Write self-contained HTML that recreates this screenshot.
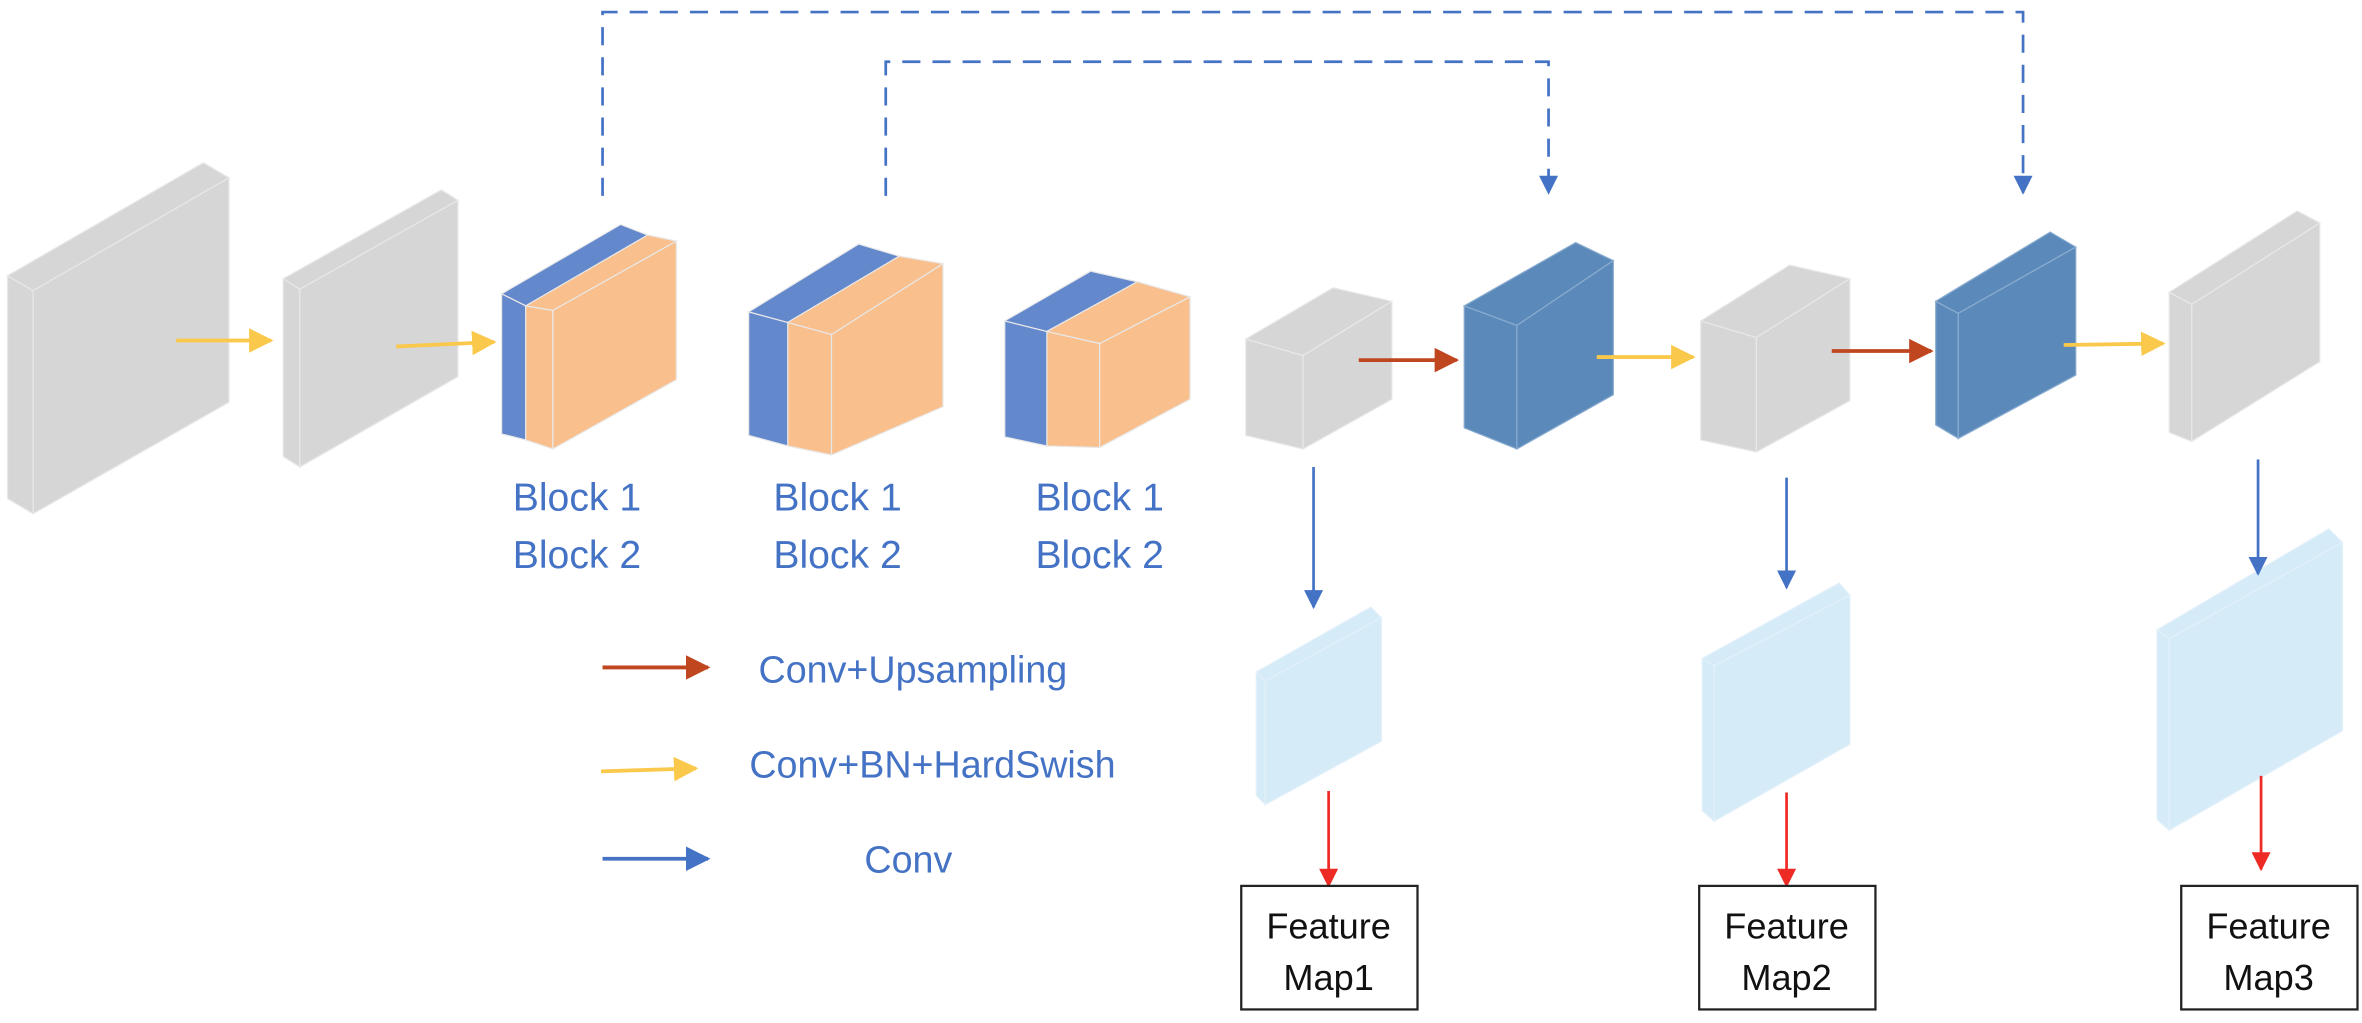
<!DOCTYPE html>
<html><head><meta charset="utf-8"><style>
html,body{margin:0;padding:0;background:#fff;}
svg{display:block;}
text{font-family:"Liberation Sans",sans-serif;}
</style></head><body>
<svg width="2362" height="1023" viewBox="0 0 1568 679" preserveAspectRatio="none" xmlns="http://www.w3.org/2000/svg">
<defs>
<marker id="ay" viewBox="0 0 10 10" refX="9" refY="5" markerWidth="6.5" markerHeight="6.5" orient="auto" markerUnits="strokeWidth"><path d="M0,0L10,5L0,10z" fill="#fac84a"/></marker>
<marker id="ar" viewBox="0 0 10 10" refX="9" refY="5" markerWidth="6.5" markerHeight="6.5" orient="auto" markerUnits="strokeWidth"><path d="M0,0L10,5L0,10z" fill="#c0461f"/></marker>
<marker id="ab" viewBox="0 0 10 10" refX="9" refY="5" markerWidth="8" markerHeight="7" orient="auto" markerUnits="strokeWidth"><path d="M0,0L10,5L0,10z" fill="#4472c4"/></marker>
<marker id="ab2" viewBox="0 0 10 10" refX="9" refY="5" markerWidth="6.5" markerHeight="6.5" orient="auto" markerUnits="strokeWidth"><path d="M0,0L10,5L0,10z" fill="#4472c4"/></marker>
<marker id="ad" viewBox="0 0 10 10" refX="9" refY="5" markerWidth="8" markerHeight="7" orient="auto" markerUnits="strokeWidth"><path d="M0,0L10,5L0,10z" fill="#ee2a24"/></marker>
</defs>
<g stroke="#e8e8e8" stroke-width="0.8">
<polygon points="5,183 22,193 22,341 5,331" fill="#d6d6d6"/>
<polygon points="5,183 135,108 152,118 22,193" fill="#d6d6d6"/>
<polygon points="22,193 152,118 152,267 22,341" fill="#d6d6d6"/>
<polygon points="188,185 199,192 199,310 188,303" fill="#d6d6d6"/>
<polygon points="188,185 293,126 304,133 199,192" fill="#d6d6d6"/>
<polygon points="199,192 304,133 304,250 199,310" fill="#d6d6d6"/>
<polygon points="333,195 349,203 349,292 333,288" fill="#6488cc"/>
<polygon points="349,203 367,206 367,298 349,292" fill="#f9bf8c"/>
<polygon points="367,206 449,160 449,252 367,298" fill="#f9bf8c"/>
<polygon points="333,195 412,149 430,156 349,203" fill="#6488cc"/>
<polygon points="349,203 430,156 449,160 367,206" fill="#f9bf8c"/>
<polygon points="497,207 523,214 523,296 497,289" fill="#6488cc"/>
<polygon points="523,214 552,222 552,302 523,296" fill="#f9bf8c"/>
<polygon points="552,222 626,175 626,270 552,302" fill="#f9bf8c"/>
<polygon points="497,207 570,162 597,170 523,214" fill="#6488cc"/>
<polygon points="523,214 597,170 626,175 552,222" fill="#f9bf8c"/>
<polygon points="667,213 695,220 695,296 667,290" fill="#6488cc"/>
<polygon points="695,220 730,228 730,297 695,296" fill="#f9bf8c"/>
<polygon points="730,228 790,197 790,265 730,297" fill="#f9bf8c"/>
<polygon points="667,213 724,180 755,187 695,220" fill="#6488cc"/>
<polygon points="695,220 755,187 790,197 730,228" fill="#f9bf8c"/>
<polygon points="827,225 865,236 865,298 827,289" fill="#d6d6d6"/>
<polygon points="827,225 885,191 924,200 865,236" fill="#d6d6d6"/>
<polygon points="865,236 924,200 924,265 865,298" fill="#d6d6d6"/>
<polygon points="972,203 1007,216 1007,298 972,284" fill="#5b8aba" stroke="#8aacd0"/>
<polygon points="972,203 1046,161 1071,173 1007,216" fill="#5b8aba" stroke="#8aacd0"/>
<polygon points="1007,216 1071,173 1071,262 1007,298" fill="#5b8aba" stroke="#8aacd0"/>
<polygon points="1129,213 1166,224 1166,300 1129,292" fill="#d6d6d6"/>
<polygon points="1129,213 1188,176 1228,185 1166,224" fill="#d6d6d6"/>
<polygon points="1166,224 1228,185 1228,266 1166,300" fill="#d6d6d6"/>
<polygon points="1285,200 1300,208 1300,291 1285,282" fill="#5b8aba" stroke="#8aacd0"/>
<polygon points="1285,200 1361,154 1378,164 1300,208" fill="#5b8aba" stroke="#8aacd0"/>
<polygon points="1300,208 1378,164 1378,249 1300,291" fill="#5b8aba" stroke="#8aacd0"/>
<polygon points="1440,194 1455,202 1455,293 1440,287" fill="#d6d6d6"/>
<polygon points="1440,194 1525,140 1540,148 1455,202" fill="#d6d6d6"/>
<polygon points="1455,202 1540,148 1540,240 1455,293" fill="#d6d6d6"/>
</g>
<g stroke="#e2f0fa" stroke-width="0.8" fill="#d6ebf8">
<polygon points="834,446 840,452 840,534 834,528"/>
<polygon points="834,446 910,403 917,410 840,452"/>
<polygon points="840,452 917,410 917,492 840,534"/>
<polygon points="1130,437 1138,442 1138,545 1130,538"/>
<polygon points="1130,437 1221,387 1228,395 1138,442"/>
<polygon points="1138,442 1228,395 1228,494 1138,545"/>
<polygon points="1432,418 1440,424 1440,551 1432,544"/>
<polygon points="1432,418 1546,351 1555,360 1440,424"/>
<polygon points="1440,424 1555,360 1555,485 1440,551"/>
</g>
<g fill="none">
<line x1="117" y1="226" x2="180" y2="226" stroke="#fac84a" stroke-width="2.5" marker-end="url(#ay)"/>
<line x1="263" y1="230" x2="328" y2="227" stroke="#fac84a" stroke-width="2.5" marker-end="url(#ay)"/>
<line x1="1060" y1="237" x2="1124" y2="237" stroke="#fac84a" stroke-width="2.5" marker-end="url(#ay)"/>
<line x1="1370" y1="229" x2="1436" y2="228" stroke="#fac84a" stroke-width="2.5" marker-end="url(#ay)"/>
<line x1="399" y1="512" x2="462" y2="510" stroke="#fac84a" stroke-width="2.5" marker-end="url(#ay)"/>
<line x1="902" y1="239" x2="967" y2="239" stroke="#c0461f" stroke-width="2.5" marker-end="url(#ar)"/>
<line x1="1216" y1="233" x2="1282" y2="233" stroke="#c0461f" stroke-width="2.5" marker-end="url(#ar)"/>
<line x1="400" y1="443" x2="470" y2="443" stroke="#c0461f" stroke-width="2.5" marker-end="url(#ar)"/>
<line x1="400" y1="570" x2="470" y2="570" stroke="#4472c4" stroke-width="2.5" marker-end="url(#ab2)"/>
<line x1="872" y1="310" x2="872" y2="403" stroke="#4472c4" stroke-width="1.8" marker-end="url(#ab)"/>
<line x1="1186" y1="317" x2="1186" y2="390" stroke="#4472c4" stroke-width="1.8" marker-end="url(#ab)"/>
<line x1="1499" y1="305" x2="1499" y2="381" stroke="#4472c4" stroke-width="1.8" marker-end="url(#ab)"/>
<line x1="882" y1="525" x2="882" y2="588" stroke="#ee2a24" stroke-width="1.8" marker-end="url(#ad)"/>
<line x1="1186" y1="526" x2="1186" y2="588" stroke="#ee2a24" stroke-width="1.8" marker-end="url(#ad)"/>
<line x1="1501" y1="515" x2="1501" y2="577" stroke="#ee2a24" stroke-width="1.8" marker-end="url(#ad)"/>
<polyline points="400,130 400,8 1343,8 1343,128" stroke="#4472c4" stroke-width="1.8" stroke-dasharray="12,8" marker-end="url(#ab)"/>
<polyline points="588,130 588,41 1028,41 1028,128" stroke="#4472c4" stroke-width="1.8" stroke-dasharray="12,8" marker-end="url(#ab)"/>
</g>
<g fill="#fff" stroke="#222" stroke-width="1.5">
<rect x="824" y="588" width="117" height="82"/>
<rect x="1128" y="588" width="117" height="82"/>
<rect x="1448" y="588" width="117" height="82"/>
</g>
<g font-size="24" fill="#111" text-anchor="middle">
<text x="882" y="623">Feature</text><text x="882" y="657">Map1</text>
<text x="1186" y="623">Feature</text><text x="1186" y="657">Map2</text>
<text x="1506" y="623">Feature</text><text x="1506" y="657">Map3</text>
</g>
<g font-size="26" fill="#4472c4" text-anchor="middle">
<text x="383" y="339">Block 1</text><text x="383" y="377">Block 2</text>
<text x="556" y="339">Block 1</text><text x="556" y="377">Block 2</text>
<text x="730" y="339">Block 1</text><text x="730" y="377">Block 2</text>
</g>
<g font-size="25" fill="#4472c4" text-anchor="middle">
<text x="606" y="453">Conv+Upsampling</text>
<text x="619" y="516">Conv+BN+HardSwish</text>
<text x="603" y="579">Conv</text>
</g>
</svg>
</body></html>
